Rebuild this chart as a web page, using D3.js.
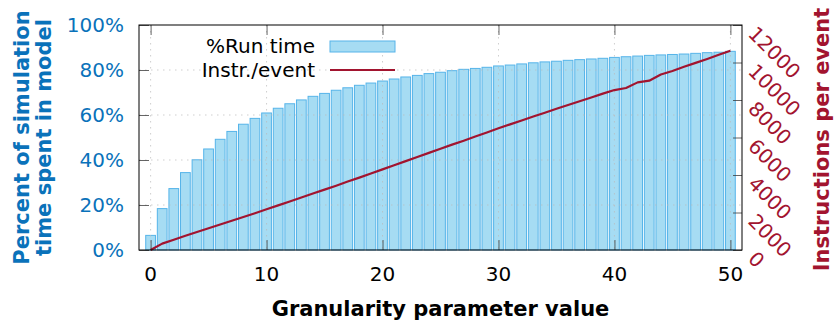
<!DOCTYPE html>
<html>
<head>
<meta charset="utf-8">
<script src="https://cdn.jsdelivr.net/npm/d3@7/dist/d3.min.js"></script>
<style>
  body { margin: 0; background: #fff; }
  svg { display: block; font-family: "DejaVu Sans", sans-serif; }
</style>
</head>
<body>
<div id="chart"></div>
<script>
// granularity parameter values on the x axis
const granularity = [0, 1, 2, 3, 4, 5, 6, 7, 8, 9, 10, 11, 12, 13, 14, 15, 16, 17, 18, 19, 20,
    21, 22, 23, 24, 25, 26, 27, 28, 29, 30, 31, 32, 33, 34, 35, 36, 37, 38, 39, 40,
    41, 42, 43, 44, 45, 46, 47, 48, 49, 50];

// % of run time spent in model (bars, left axis)
const runTimePct = [6.5, 18.4, 27.3, 34.4, 40.1, 44.9, 49.2, 52.7, 55.9, 58.5, 60.9,
    63.0, 65.0, 66.7, 68.3, 69.6, 71.0, 72.1, 73.2, 74.2, 75.1,
    76.0, 76.9, 77.6, 78.4, 79.0, 79.7, 80.3, 80.7, 81.2, 81.8,
    82.2, 82.7, 83.2, 83.6, 83.9, 84.3, 84.6, 84.9, 85.2, 85.6,
    85.9, 86.2, 86.5, 86.7, 86.9, 87.1, 87.4, 87.7, 87.9, 88.3];

// instructions per event (line, right axis)
const instrPerEvent = [0, 340, 550, 760, 960, 1160, 1360, 1560, 1760, 1960, 2170,
    2380, 2590, 2800, 3010, 3220, 3430, 3650, 3860, 4080, 4300,
    4520, 4740, 4960, 5180, 5400, 5620, 5830, 6050, 6270, 6490,
    6700, 6910, 7120, 7320, 7530, 7730, 7930, 8130, 8340, 8530,
    8640, 8940, 9030, 9360, 9550, 9770, 9980, 10190, 10410, 10630];

const xTicks = [0, 10, 20, 30, 40, 50];
const pctTicks = [0, 20, 40, 60, 80, 100];
const instrTicks = [0, 2000, 4000, 6000, 8000, 10000, 12000];

const blue = "#0a72ba";
const red = "#a2142f";
const barFill = "#a6dcf3";
const barStroke = "#56b4e9";

const width = 834, height = 328;
const margin = { top: 25, right: 92, bottom: 78, left: 139 };
const innerW = width - margin.left - margin.right;
const innerH = height - margin.top - margin.bottom;

const svg = d3.select("#chart").append("svg")
    .attr("width", width)
    .attr("height", height);

const g = svg.append("g")
    .attr("transform", "translate(" + margin.left + "," + margin.top + ")");

const x = d3.scaleLinear().domain([-1, 51]).range([0, innerW]);
const yPct = d3.scaleLinear().domain([0, 100]).range([innerH, 0]);
const yInstr = d3.scaleLinear().domain([0, 12000]).range([innerH, 0]);

const barW = (x(1) - x(0)) * 0.84;

// bars
g.selectAll(".bar")
    .data(granularity)
    .enter()
    .append("rect")
    .attr("class", "bar")
    .attr("x", d => x(d) - barW / 2)
    .attr("y", (d, i) => yPct(runTimePct[i]))
    .attr("width", barW)
    .attr("height", (d, i) => innerH - yPct(runTimePct[i]))
    .attr("fill", barFill)
    .attr("stroke", barStroke)
    .attr("stroke-width", 1);

// dotted grid, drawn over the bars like gnuplot does
g.selectAll(".vgrid")
    .data(xTicks)
    .enter()
    .append("line")
    .attr("x1", d => x(d)).attr("x2", d => x(d))
    .attr("y1", 0).attr("y2", innerH)
    .attr("stroke", "#bbb")
    .attr("stroke-opacity", 0.7)
    .attr("stroke-dasharray", "1.5,4.5");

g.selectAll(".hgrid")
    .data(pctTicks.slice(1, -1))
    .enter()
    .append("line")
    .attr("x1", 0).attr("x2", innerW)
    .attr("y1", d => yPct(d)).attr("y2", d => yPct(d))
    .attr("stroke", "#bbb")
    .attr("stroke-opacity", 0.7)
    .attr("stroke-dasharray", "1.5,4.5");

// instructions line
const line = d3.line()
    .x((d, i) => x(granularity[i]))
    .y(d => yInstr(d));

g.append("path")
    .datum(instrPerEvent)
    .attr("fill", "none")
    .attr("stroke", red)
    .attr("stroke-width", 2.2)
    .attr("stroke-linejoin", "round")
    .attr("d", line);

// axes (ticks point inward, labels placed by hand)
const tickLen = 10;
const xBottom = g.append("g")
    .attr("transform", "translate(0," + innerH + ")")
    .call(d3.axisBottom(x).tickValues(xTicks).tickSize(-tickLen).tickFormat(""));
const xTop = g.append("g")
    .call(d3.axisTop(x).tickValues(xTicks).tickSize(-tickLen).tickFormat(""));
const yLeft = g.append("g")
    .call(d3.axisLeft(yPct).tickValues(pctTicks).tickSize(-tickLen).tickFormat(""));
const yRight = g.append("g")
    .attr("transform", "translate(" + innerW + ",0)")
    .call(d3.axisRight(yInstr).tickValues(instrTicks).tickSize(-9).tickFormat(""));

[xBottom, xTop, yLeft, yRight].forEach(a => {
    a.select(".domain").remove();
    a.selectAll(".tick line").attr("stroke", "#333").attr("stroke-opacity", 0.75);
});

// border
g.append("rect")
    .attr("width", innerW)
    .attr("height", innerH)
    .attr("fill", "none")
    .attr("stroke", "#000")
    .attr("stroke-width", 1);

// tick labels
g.selectAll(".xlab")
    .data(xTicks)
    .enter()
    .append("text")
    .attr("x", d => x(d))
    .attr("y", innerH + 31)
    .attr("text-anchor", "middle")
    .attr("font-size", "20px")
    .attr("fill", "#000")
    .text(d => d);

g.selectAll(".ylab")
    .data(pctTicks)
    .enter()
    .append("text")
    .attr("x", -15)
    .attr("y", d => yPct(d))
    .attr("dy", "0.36em")
    .attr("text-anchor", "end")
    .attr("font-size", "20px")
    .attr("fill", blue)
    .text(d => d + "%");

g.selectAll(".rlab")
    .data(instrTicks)
    .enter()
    .append("text")
    .attr("transform", d => "translate(" + (innerW + 5) + "," + (yInstr(d) + 10) + ") rotate(45)")
    .attr("text-anchor", "start")
    .attr("font-size", "20px")
    .attr("fill", red)
    .text(d => d);

// axis titles
svg.append("text")
    .attr("x", margin.left + innerW / 2)
    .attr("y", 316)
    .attr("text-anchor", "middle")
    .attr("font-size", "21px")
    .attr("font-weight", "bold")
    .attr("fill", "#000")
    .text("Granularity parameter value");

const leftTitle = svg.append("text")
    .attr("transform", "translate(0," + (margin.top + innerH / 2) + ") rotate(-90)")
    .attr("text-anchor", "middle")
    .attr("font-size", "21px")
    .attr("font-weight", "bold")
    .attr("fill", blue);
leftTitle.append("tspan").attr("x", 0).attr("y", 29).text("Percent of simulation");
leftTitle.append("tspan").attr("x", 0).attr("y", 51).text("time spent in model");

svg.append("text")
    .attr("transform", "translate(829," + (margin.top + innerH / 2 + 2) + ") rotate(-90)")
    .attr("text-anchor", "middle")
    .attr("font-size", "21px")
    .attr("font-weight", "bold")
    .attr("fill", red)
    .text("Instructions per event");

// legend
const legend = svg.append("g");
legend.append("text")
    .attr("x", 315).attr("y", 53)
    .attr("text-anchor", "end")
    .attr("font-size", "20px")
    .text("%Run time");
legend.append("rect")
    .attr("x", 330).attr("y", 41)
    .attr("width", 65).attr("height", 11)
    .attr("fill", barFill)
    .attr("stroke", barStroke);
legend.append("text")
    .attr("x", 315).attr("y", 77)
    .attr("text-anchor", "end")
    .attr("font-size", "20px")
    .text("Instr./event");
legend.append("line")
    .attr("x1", 330).attr("x2", 395)
    .attr("y1", 70).attr("y2", 70)
    .attr("stroke", red)
    .attr("stroke-width", 2.2);
</script>
</body>
</html>
